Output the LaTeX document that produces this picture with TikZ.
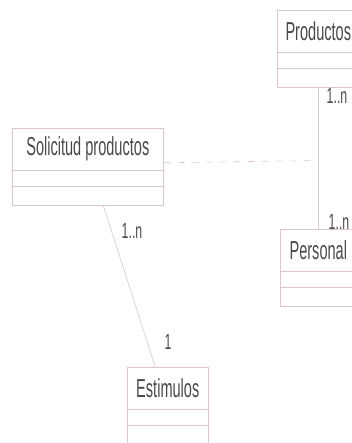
\documentclass[tikz,border=0pt]{standalone}
\usepackage{fontspec}
\setmainfont[FakeStretch=0.56]{Liberation Sans}
\usetikzlibrary{calc}
\definecolor{edge}{HTML}{DCC6CB}
\definecolor{ink}{HTML}{4A4A4A}
\tikzset{
  classbox/.style={draw=edge, line width=0.6pt, fill=white, anchor=north west,
    minimum height=77pt, inner sep=0pt},
  classname/.style={text=ink, font=\fontsize{26}{26}\selectfont, inner sep=0pt},
  mult/.style={text=ink, font=\fontsize{22}{22}\selectfont, inner sep=0pt},
  assoc/.style={draw=edge, line width=0.6pt},
  dep/.style={draw=edge, line width=0.6pt, dash pattern=on 7pt off 7pt},
}
% a class box: name, top-left corner, width, title
\newcommand{\umlclass}[5]{%
  \node[classbox, minimum width=#4pt] (#1) at (#2,#3) {};
  \node[classname] (#1-name) at ($(#1.north)+(0,21)$) {#5};
  \draw[edge, line width=0.6pt] ($(#1.north west)+(0,42)$) -- ($(#1.north east)+(0,42)$);
  \draw[edge, line width=0.6pt] ($(#1.north west)+(0,58)$) -- ($(#1.north east)+(0,58)$);
}
\begin{document}
\begin{tikzpicture}[x=1pt, y=-1pt]
  \useasboundingbox (0,0) rectangle (352,443);
  \clip (0,0) rectangle (352,443);
  \fill[white] (0,0) rectangle (352,443);

  \umlclass{prod}{277}{10}{82}{Productos}
  \umlclass{sol}{12}{128}{151}{Solicitud productos}
  \umlclass{pers}{280}{229}{76}{Personal}
  \umlclass{est}{127}{367}{81}{Estimulos}

  % Productos -- Personal
  \draw[assoc] (prod.south) -- (prod.south |- pers.north);
  \coordinate (mid) at ($(prod.south)+(-6,73)$);
  % dependency from Solicitud productos to the association
  \draw[dep] ([yshift=4pt]sol.east) -- (mid);

  % Solicitud productos -- Estimulos
  \draw[assoc] ($(sol.south)+(15.5,0)$) -- ($(est.north)+(-12.5,0)$);

  % multiplicities
  \node[mult] (m1) at (337,96) {1..n};
  \node[mult] (m2) at (339,222) {1..n};
  \node[mult] (m3) at (132,231) {1..n};
  \node[mult] (m4) at (168,342) {1};
\end{tikzpicture}
\end{document}
